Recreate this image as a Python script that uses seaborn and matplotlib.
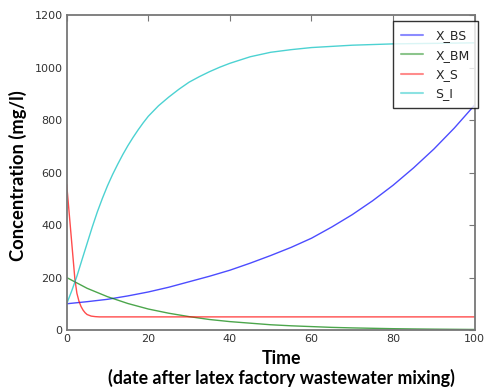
import matplotlib
matplotlib.use("Agg")
import matplotlib.pyplot as plt
import seaborn as sns
import pandas as pd

# ---- data ----
t_bs = [0, 5, 10, 15, 20, 25, 30, 35, 40, 45, 50, 55, 60, 65, 70, 75, 80, 85, 90, 95, 100]
x_bs = [100, 108, 117, 130, 145, 163, 184, 205, 228, 255, 284, 315, 350, 393, 440, 493, 552, 618, 690, 770, 858]

t_bm = [0, 5, 10, 15, 20, 25, 30, 35, 40, 45, 50, 55, 60, 65, 70, 75, 80, 85, 90, 95, 100]
x_bm = [200, 159, 127, 101, 80, 64, 51, 40, 32, 26, 20, 16, 13, 10, 8, 6.5, 5, 4, 3.2, 2.6, 2]

t_s = [0, 0.5, 1, 1.5, 2, 2.5, 3, 3.5, 4, 4.5, 5, 6, 7, 8, 10, 100]
x_s = [555, 465, 375, 285, 195, 140, 110, 90, 76, 66, 59, 53, 51, 50, 50, 50]

t_si = [0, 1.25, 2.5, 3.75, 5, 6.25, 7.5, 8.75, 10, 11.25, 12.5, 13.75, 15, 16.25, 17.5, 18.75,
        20, 22.5, 25, 27.5, 30, 32.5, 35, 37.5, 40, 45, 50, 55, 60, 70, 80, 90, 100]
s_i = [100, 150, 205, 268, 330, 392, 450, 502, 550, 593, 632, 669, 703, 734, 763, 790,
       815, 855, 888, 918, 945, 966, 985, 1002, 1017, 1042, 1059, 1069, 1077, 1086, 1091, 1093, 1095]

series_names = ["X_BS", "X_BM", "X_S", "S_I"]
colors = {"X_BS": "#0000ff", "X_BM": "#008000", "X_S": "#ff0000", "S_I": "#00bfbf"}

frames = []
for name, tt, vv in [("X_BS", t_bs, x_bs), ("X_BM", t_bm, x_bm), ("X_S", t_s, x_s), ("S_I", t_si, s_i)]:
    frames.append(pd.DataFrame({"Time": tt, "Concentration": vv, "series": name}))
df = pd.concat(frames, ignore_index=True)

sns.set_theme(style="white")
plt.rcParams['font.family'] = ['DejaVu Sans']

fig = plt.figure(figsize=(4.84, 3.88), dpi=100)
ax = fig.add_axes([66.7 / 484, 1 - 330 / 388, 408 / 484, (330 - 15.3) / 388])

for name in series_names:
    sub = df[df["series"] == name]
    sns.lineplot(data=sub, x="Time", y="Concentration", ax=ax, color=colors[name],
                 alpha=0.7, linewidth=1.0, label=name, sort=False)

ax.set_xlim(0, 100)
ax.set_ylim(0, 1200)
ax.set_xticks([0, 20, 40, 60, 80, 100])
ax.set_yticks([0, 200, 400, 600, 800, 1000, 1200])

for sp in ax.spines.values():
    sp.set_color("#777777")
    sp.set_linewidth(1.3)
ax.tick_params(direction="in", length=4, width=0.8, color="#777777",
               labelsize=8, labelcolor="#333333", top=True, right=True, pad=3)

lab_font = dict(family="Lato", weight="bold", color="black")
ax.set_xlabel("Time\n(date after latex factory wastewater mixing)", linespacing=1.1,
              size=12.8, **lab_font)
ax.xaxis.set_label_coords((281 - 66.7) / 408, -0.064)
ax.xaxis.label.set_va("top")
ax.set_ylabel("Concentration (mg/l)", size=13.2, **lab_font)
ax.yaxis.set_label_coords(-0.098, 0.49)

leg = ax.legend(loc="upper right", bbox_to_anchor=(1.007, 0.981), fontsize=9, frameon=True,
                fancybox=False, shadow=False, borderpad=0.65, labelspacing=0.5,
                handlelength=1.7, handletextpad=1.0, borderaxespad=0.0)
leg.get_frame().set_edgecolor("black")
leg.get_frame().set_linewidth(1.0)
for h in leg.get_lines():
    h.set_alpha(0.45)
    h.set_linewidth(1.5)

fig.savefig("out.png", dpi=100)
